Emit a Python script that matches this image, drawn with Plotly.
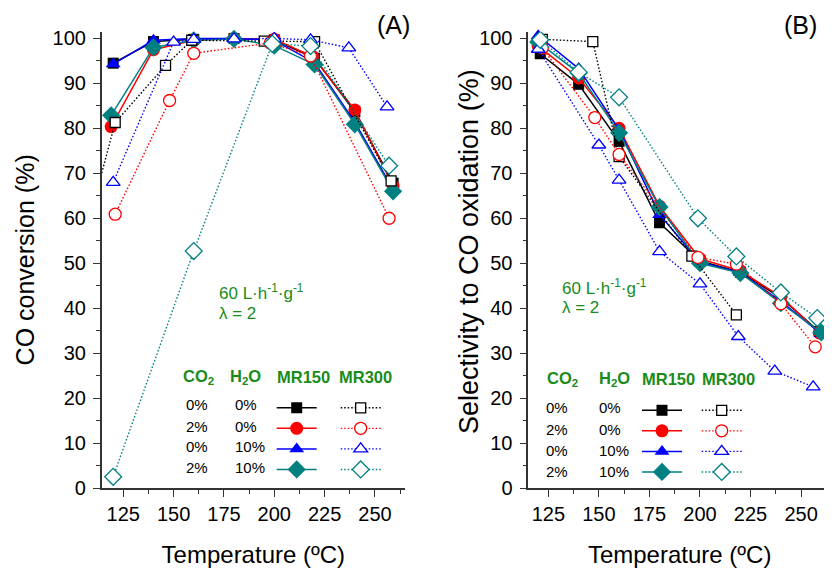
import plotly.graph_objects as go

# ---------------- DATA ----------------
# Panel A: CO conversion (%)
A_mr150_00_T = [120, 140, 160, 180, 200, 220, 240, 259]
A_mr150_00_V = [94.5, 99.3, 99.8, 100.0, 99.7, 95.6, 83.7, 67.8]
A_mr150_20_T = [119, 140, 160, 180, 200, 219, 240, 259]
A_mr150_20_V = [80.4, 97.5, 99.6, 100.0, 99.8, 96.0, 84.1, 67.2]
A_mr150_010_T = [120, 140, 160, 180, 200, 220, 240, 259]
A_mr150_010_V = [94.3, 99.6, 100.0, 100.0, 99.6, 94.6, 81.4, 66.4]
A_mr150_210_T = [119, 140, 160, 180, 200, 220, 240, 259]
A_mr150_210_V = [82.9, 98.0, 99.6, 99.9, 98.4, 94.2, 80.9, 66.0]

A_mr300_00_T = [100, 121, 146, 159, 195, 220, 258]
A_mr300_00_V = [46.0, 81.3, 94.0, 99.6, 99.4, 99.3, 68.3]
A_mr300_20_T = [121, 148, 160, 198, 218, 257]
A_mr300_20_V = [60.9, 86.2, 96.7, 99.0, 96.1, 60.0]
A_mr300_010_T = [120, 150, 160, 180, 200, 218, 237, 256]
A_mr300_010_V = [68.0, 99.2, 99.8, 99.9, 100.0, 99.7, 97.9, 84.8]
A_mr300_210_T = [120, 160, 199, 218, 257]
A_mr300_210_V = [2.5, 52.7, 98.8, 98.3, 71.7]

# Panel B: Selectivity to CO oxidation (%)
B_mr150_00_T = [121, 140, 160, 180, 200, 220, 240, 259]
B_mr150_00_V = [96.6, 89.8, 77.1, 59.0, 50.5, 48.0, 42.3, 34.8]
B_mr150_20_T = [120, 140, 160, 180, 200, 220, 240, 259]
B_mr150_20_V = [98.3, 91.2, 80.0, 62.7, 51.0, 48.3, 42.6, 34.5]
B_mr150_010_T = [120, 140, 160, 180, 200, 220, 240, 260]
B_mr150_010_V = [100.6, 93.3, 79.7, 60.8, 50.3, 47.9, 41.5, 34.3]
B_mr150_210_T = [120, 140, 160, 180, 200, 220, 240, 260]
B_mr150_210_V = [99.2, 92.3, 79.0, 62.5, 50.0, 47.8, 41.1, 34.6]

B_mr300_00_T = [122, 147, 160, 196, 218]
B_mr300_00_V = [99.8, 99.3, 73.7, 51.6, 38.5]
B_mr300_20_T = [122, 148, 160, 199, 218, 240, 257]
B_mr300_20_V = [97.9, 82.4, 74.2, 51.3, 49.8, 41.0, 31.4]
B_mr300_010_T = [120, 150, 160, 180, 200, 219, 237, 256]
B_mr300_010_V = [97.6, 76.3, 68.5, 52.6, 45.4, 33.7, 26.0, 22.5]
B_mr300_210_T = [121, 140, 160, 199, 218, 240, 258]
B_mr300_210_V = [99.7, 92.5, 86.9, 60.0, 51.5, 43.5, 37.8]

# legend table text
co2_labels = ["0%", "2%", "0%", "2%"]
h2o_labels = ["0%", "0%", "10%", "10%"]
x_tick_vals = [125, 150, 175, 200, 225, 250]

# ---------------- STYLE ----------------
colors = ["#000000", "#ff0000", "#0000ff", "#008080"]
symbols = ["square", "circle", "triangle-up", "diamond"]
sizes = [11, 13, 13, 14]
FONT = "Liberation Sans, Arial, sans-serif"
GREEN = "#1a8c1a"
DOT = "1.5px,2px"

fig = go.Figure()

A_150 = [(A_mr150_00_T, A_mr150_00_V), (A_mr150_20_T, A_mr150_20_V),
         (A_mr150_010_T, A_mr150_010_V), (A_mr150_210_T, A_mr150_210_V)]
A_300 = [(A_mr300_00_T, A_mr300_00_V), (A_mr300_20_T, A_mr300_20_V),
         (A_mr300_010_T, A_mr300_010_V), (A_mr300_210_T, A_mr300_210_V)]
B_150 = [(B_mr150_00_T, B_mr150_00_V), (B_mr150_20_T, B_mr150_20_V),
         (B_mr150_010_T, B_mr150_010_V), (B_mr150_210_T, B_mr150_210_V)]
B_300 = [(B_mr300_00_T, B_mr300_00_V), (B_mr300_20_T, B_mr300_20_V),
         (B_mr300_010_T, B_mr300_010_V), (B_mr300_210_T, B_mr300_210_V)]


def add_open(series, xa, ya, leg):
    for i, (t, v) in enumerate(series):
        fig.add_trace(go.Scatter(
            x=t, y=v, xaxis=xa, yaxis=ya, mode="lines+markers", name=" ",
            legend=leg, cliponaxis=True,
            line=dict(color=colors[i], width=1.4, dash=DOT),
            marker=dict(symbol=symbols[i], size=sizes[i] - 1, color="white",
                        line=dict(color=colors[i], width=1.3))))


def add_filled(series, xa, ya, leg):
    for i, (t, v) in enumerate(series):
        fig.add_trace(go.Scatter(
            x=t, y=v, xaxis=xa, yaxis=ya, mode="lines+markers", name=" ",
            legend=leg, cliponaxis=False,
            line=dict(color=colors[i], width=1.5),
            marker=dict(symbol=symbols[i], size=sizes[i], color=colors[i],
                        line=dict(color=colors[i], width=0))))


add_filled(A_150, "x", "y", "legend")
add_open(A_300, "x", "y", "legend2")
add_filled(B_150, "x2", "y2", "legend3")
add_open(B_300, "x2", "y2", "legend4")

# the page body has an 8px margin; figure is placed at (8, 8)
OFF = 8
W, H = 824, 562


def px(x):
    return (x - OFF) / W


def py(y):
    return 1 - (y - OFF) / H


axis_common = dict(
    showline=True, linecolor="#333333", linewidth=1.6, showgrid=False,
    zeroline=False, ticks="outside", ticklen=7, tickwidth=1.3,
    tickcolor="#333333", tickfont=dict(family=FONT, size=20, color="black"),
)

xaxis_common = dict(axis_common, tickmode="array", tickvals=x_tick_vals,
                    minor=dict(dtick=12.5, tick0=125, ticks="outside", ticklen=4,
                               tickwidth=1.2, tickcolor="#333333"),
                    title=dict(text="Temperature (ºC)",
                               font=dict(family=FONT, size=24, color="black"),
                               standoff=22))
yaxis_common = dict(axis_common, range=[0, 101.5], dtick=10, tick0=0,
                    ticklabelstandoff=3,
                    minor=dict(dtick=5, ticks="outside", ticklen=4,
                               tickwidth=1.2, tickcolor="#333333"))

leg_common = dict(bgcolor="rgba(0,0,0,0)", borderwidth=0, itemwidth=40,
                  font=dict(family=FONT, size=13.5), xanchor="left",
                  yanchor="top", tracegroupgap=0, itemclick=False,
                  itemdoubleclick=False)

fig.update_layout(
    width=W, height=H, margin=dict(l=0, r=0, t=0, b=0, autoexpand=False),
    paper_bgcolor="white", plot_bgcolor="white",
    font=dict(family=FONT, color="black"),
    xaxis=dict(xaxis_common, domain=[px(101.7), px(405)], range=[114.3, 264.9],
               anchor="y"),
    yaxis=dict(yaxis_common, domain=[py(488), py(31.7)], anchor="x",
               title=dict(text="CO conversion (%)",
                          font=dict(family=FONT, size=25, color="black"),
                          standoff=11)),
    xaxis2=dict(xaxis_common, domain=[px(528.3), px(831)], range=[115.1, 264.8],
                anchor="y2"),
    yaxis2=dict(yaxis_common, domain=[py(488), py(31.7)], anchor="x2"),
    legend=dict(leg_common, x=px(297.7 - 26), y=py(392.5)),
    legend2=dict(leg_common, x=px(361.7 - 26), y=py(392.5)),
    legend3=dict(leg_common, x=px(663 - 26), y=py(395)),
    legend4=dict(leg_common, x=px(722.7 - 26), y=py(395)),
    showlegend=True,
)

ann = []


def text(x, y, s, size, color="black", bold=False, xanchor="left", angle=0):
    ann.append(dict(x=px(x), y=py(y), xref="paper", yref="paper", text=s,
                    showarrow=False, xanchor=xanchor, yanchor="middle",
                    textangle=angle,
                    font=dict(family=FONT, size=size, color=color,
                              weight="bold" if bold else "normal")))


# y title of panel B (sits close to its tick labels)
text(469, 252, "Selectivity to CO oxidation (%)", 27, xanchor="center", angle=-90)

# panel labels
text(393, 25, "(A)", 25, xanchor="center")
text(800, 25, "(B)", 25, xanchor="center")

# condition notes
for (x0, y1, y2) in [(217, 292, 313), (560, 287, 308)]:
    text(x0, y1, "60 L·h<sup>-1</sup>·g<sup>-1</sup>", 17, GREEN)
    text(x0, y2, "λ = 2", 17, GREEN)

# legend table headers and rows
panels = [
    dict(hy=377, hx=[181, 228, 275, 337], cx=184, hx2=233, rows=[404, 426, 446, 467]),
    dict(hy=379, hx=[545, 597, 640, 700], cx=544, hx2=597, rows=[407, 429, 450, 471]),
]
for p in panels:
    heads = ["CO<sub>2</sub>", "H<sub>2</sub>O", "MR150", "MR300"]
    for hx, h in zip(p["hx"], heads):
        text(hx, p["hy"], h, 16.5, GREEN, bold=True)
    for r, yy in enumerate(p["rows"]):
        text(p["cx"], yy, co2_labels[r], 15)
        text(p["hx2"], yy, h2o_labels[r], 15)

fig.update_layout(annotations=ann)

fig.write_html("out.html")
